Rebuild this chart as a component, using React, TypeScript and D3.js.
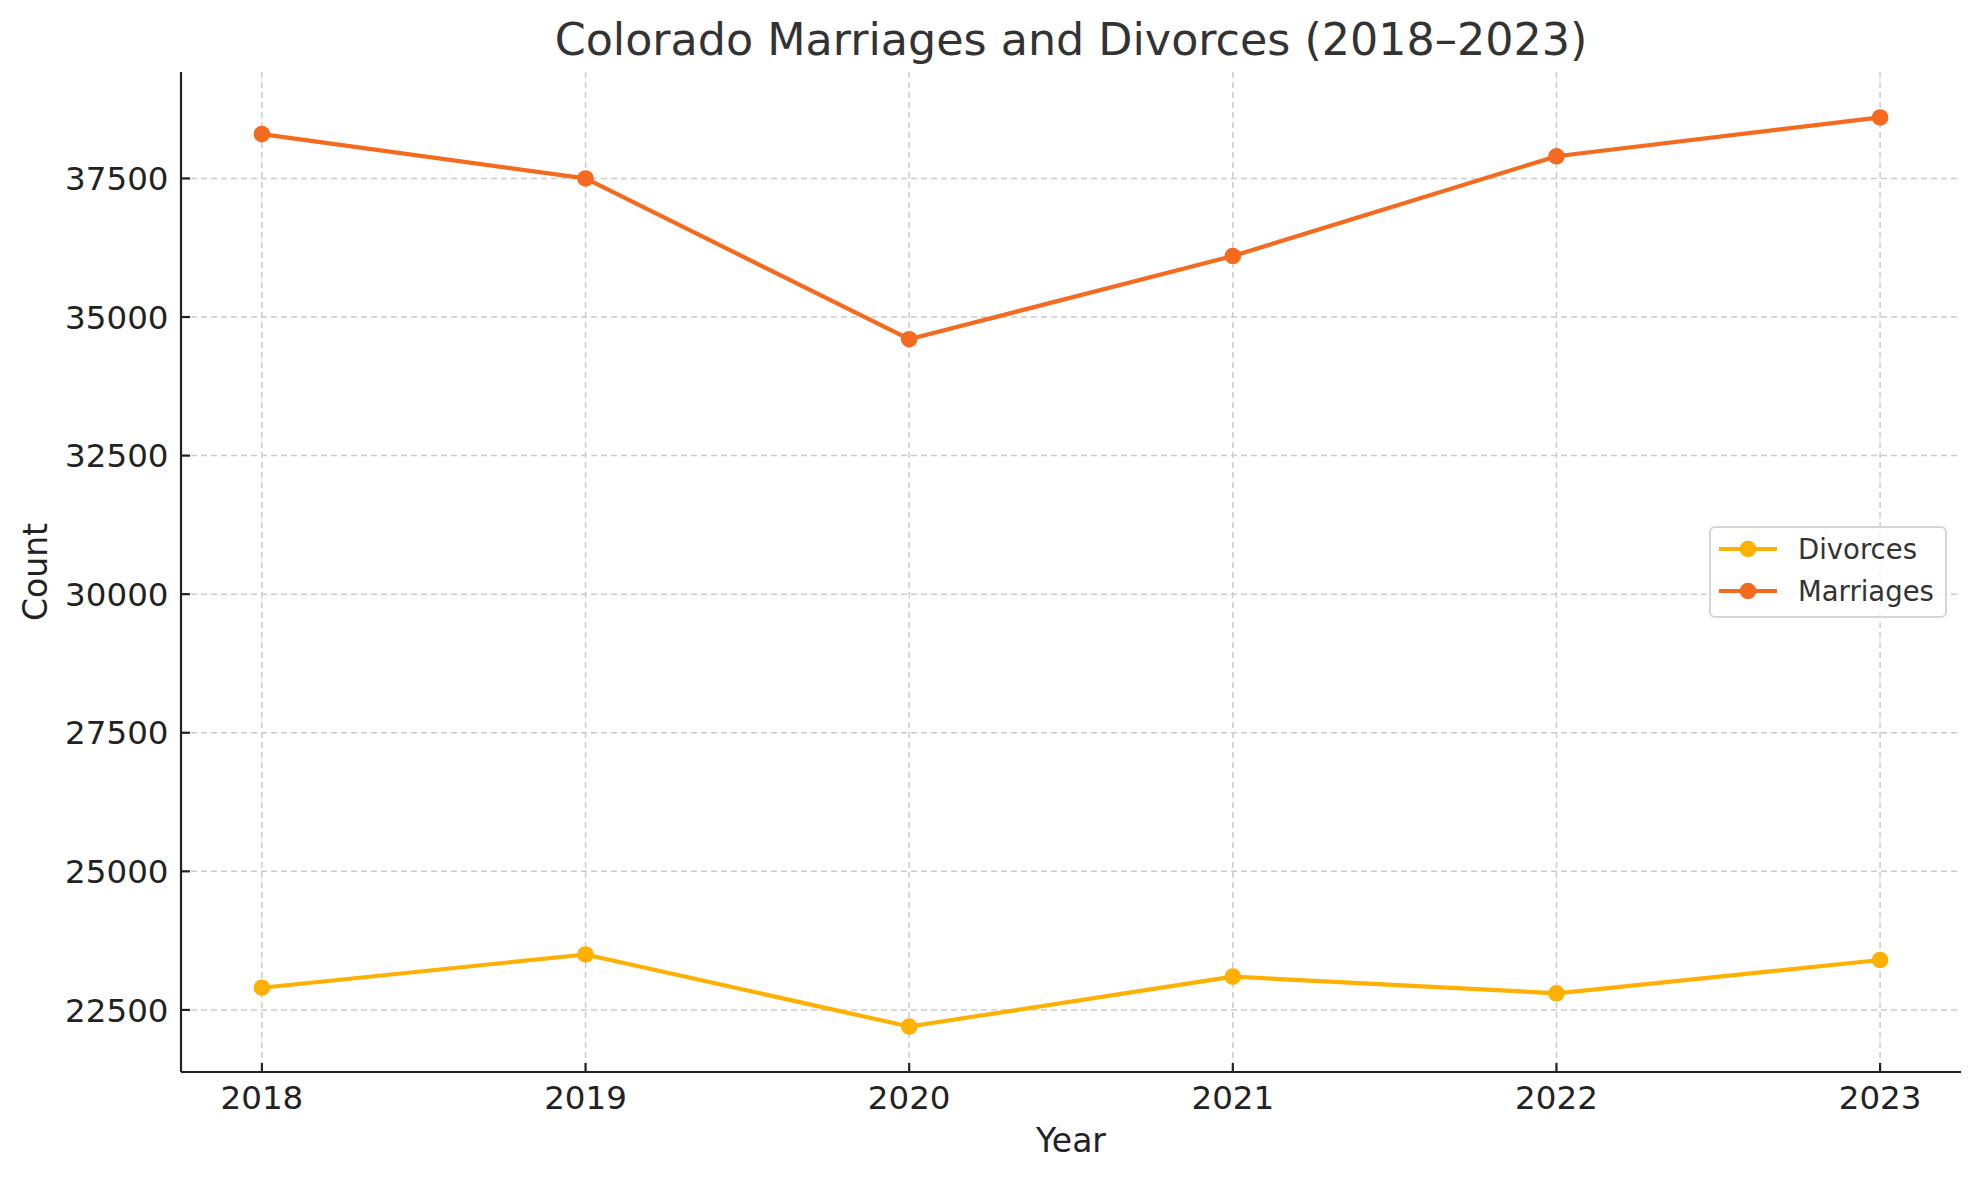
import React from "react";
import * as d3 from "d3";

const years = [2018, 2019, 2020, 2021, 2022, 2023];
const marriages = [38300, 37500, 34600, 36100, 37900, 38600];
const divorces = [22900, 23500, 22200, 23100, 22800, 23400];
const yTicks = [22500, 25000, 27500, 30000, 32500, 35000, 37500];

const series = [
  { name: "Divorces", values: divorces, color: "#FFB000" },
  { name: "Marriages", values: marriages, color: "#F46A1F" },
];

const W = 1980;
const H = 1180;
const margin = { top: 72, right: 19, bottom: 108, left: 181 };
const font = "DejaVu Sans, sans-serif";

const App = () => {
  const innerW = W - margin.left - margin.right;
  const innerH = H - margin.top - margin.bottom;

  // matplotlib style 5% margins on both axes
  const xPad = (d3.max(years)! - d3.min(years)!) * 0.05;
  const x = d3
    .scaleLinear()
    .domain([d3.min(years)! - xPad, d3.max(years)! + xPad])
    .range([0, innerW]);

  const all = [...marriages, ...divorces];
  const yMin = d3.min(all)!;
  const yMax = d3.max(all)!;
  const yPad = (yMax - yMin) * 0.05;
  const y = d3
    .scaleLinear()
    .domain([yMin - yPad, yMax + yPad])
    .range([innerH, 0]);

  const line = d3
    .line<number>()
    .x((_, i) => x(years[i]))
    .y((d) => y(d));

  return (
    <svg
      width={W}
      height={H}
      style={{ position: "absolute", left: 0, top: 0, background: "#fff" }}
      fontFamily={font}
    >
      <rect width={W} height={H} fill="#fff" />
      <text
        x={margin.left + innerW / 2}
        y={55}
        textAnchor="middle"
        fontSize={44.4}
        fill="#333"
      >
        Colorado Marriages and Divorces (2018–2023)
      </text>

      <g transform={`translate(${margin.left},${margin.top})`}>
        {/* grid */}
        {years.map((yr) => (
          <line
            key={"gx" + yr}
            x1={x(yr)}
            x2={x(yr)}
            y1={0}
            y2={innerH}
            stroke="#cccccc"
            strokeWidth={1.5}
            strokeDasharray="6,4"
          />
        ))}
        {yTicks.map((t) => (
          <line
            key={"gy" + t}
            x1={0}
            x2={innerW}
            y1={y(t)}
            y2={y(t)}
            stroke="#cccccc"
            strokeWidth={1.5}
            strokeDasharray="6,4"
          />
        ))}

        {/* series */}
        {series.map((s) => (
          <g key={s.name}>
            <path
              d={line(s.values)!}
              fill="none"
              stroke={s.color}
              strokeWidth={4.2}
              strokeLinejoin="round"
            />
            {s.values.map((v, i) => (
              <circle key={i} cx={x(years[i])} cy={y(v)} r={8.3} fill={s.color} />
            ))}
          </g>
        ))}

        {/* axes */}
        <line x1={0} x2={0} y1={0} y2={innerH} stroke="#222" strokeWidth={2.2} />
        <line x1={0} x2={innerW} y1={innerH} y2={innerH} stroke="#222" strokeWidth={2.2} />
        {yTicks.map((t) => (
          <g key={"yt" + t} transform={`translate(0,${y(t)})`}>
            <line x1={0} x2={9} stroke="#222" strokeWidth={2.2} />
            <text
              x={-12.5}
              dy="0.36em"
              textAnchor="end"
              fontSize={32.5}
              fill="#222"
            >
              {t}
            </text>
          </g>
        ))}
        {years.map((yr) => (
          <g key={"xt" + yr} transform={`translate(${x(yr)},${innerH})`}>
            <line y1={0} y2={-9} stroke="#222" strokeWidth={2.2} />
            <text y={37} textAnchor="middle" fontSize={32.5} fill="#222">
              {yr}
            </text>
          </g>
        ))}

        <text
          x={innerW / 2}
          y={innerH + 80}
          textAnchor="middle"
          fontSize={33}
          fill="#222"
        >
          Year
        </text>
        <text
          transform={`translate(${-134},${innerH / 2}) rotate(-90)`}
          textAnchor="middle"
          fontSize={33}
          fill="#222"
        >
          Count
        </text>
      </g>

      {/* legend */}
      <g transform="translate(1710,527)">
        <rect
          width={236}
          height={90}
          rx={5}
          fill="#fff"
          fillOpacity={0.8}
          stroke="#d5d5d5"
          strokeWidth={2}
        />
        {series.map((s, i) => (
          <g key={s.name} transform={`translate(0,${22 + i * 42})`}>
            <line x1={9} x2={67} stroke={s.color} strokeWidth={4.2} />
            <circle cx={38} r={8.3} fill={s.color} />
            <text x={88} dy="0.36em" fontSize={27.5} fill="#333">
              {s.name}
            </text>
          </g>
        ))}
      </g>
    </svg>
  );
};

export default App;
